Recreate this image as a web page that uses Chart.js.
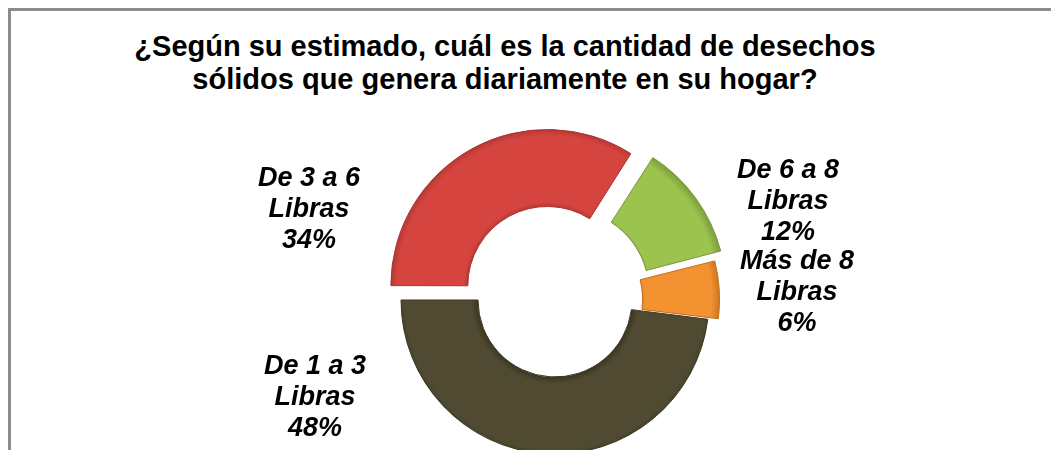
<!DOCTYPE html>
<html>
<head>
<meta charset="utf-8">
<script src="https://cdn.jsdelivr.net/npm/chart.js@4"></script>
<style>
  html, body { margin: 0; padding: 0; background: #fff; overflow: hidden; }
  #wrap { position: relative; width: 1051px; height: 450px; }
  #frame {
    position: absolute; left: 8px; top: 8px; right: 0; bottom: 0;
    border-left: 3px solid #8c8c8c; border-top: 3px solid #8c8c8c;
  }
  #title {
    position: absolute; left: 0; top: 30px; width: 1010px;
    text-align: center; font: bold 29px "Liberation Sans", Arial, sans-serif;
    line-height: 33px; color: #000;
  }
  canvas { position: absolute; left: 0; top: 0; }
</style>
</head>
<body>
<div id="wrap">
  <div id="frame"></div>
  <div id="title">¿Según su estimado, cuál es la cantidad de desechos<br>sólidos que genera diariamente en su hogar?</div>
  <canvas id="canvas" width="1051" height="450"></canvas>
</div>
<script>
const categories = ['De 1 a 3 Libras', 'De 3 a 6 Libras', 'De 6 a 8 Libras', 'Más de 8 Libras']
const percents = [48, 34, 12, 6]

const colors = ['#4f4a31', '#d5443f', '#9bc34e', '#f29231']
const edgeColors = ['#3a3622', '#a8322e', '#76983a', '#c46f1e']
// label spot (middle line) relative to the doughnut centre
const labelSpots = [[-240, 98], [-246, -90], [233, -98], [242, -7]]

function shade(context) {
  const chart = context.chart
  const area = chart.chartArea
  const i = context.dataIndex
  if (!area) return colors[i]
  const cx = (area.left + area.right) / 2
  const cy = (area.top + area.bottom) / 2
  const g = chart.ctx.createRadialGradient(cx, cy, 77, cx, cy, 160)
  g.addColorStop(0, edgeColors[i])
  g.addColorStop(0.08, colors[i])
  g.addColorStop(0.88, colors[i])
  g.addColorStop(1, edgeColors[i])
  return g
}

const labelPlugin = {
  id: 'sliceLabels',
  afterDatasetsDraw(chart) {
    const ctx = chart.ctx
    const arcs = chart.getDatasetMeta(0).data
    ctx.save()
    ctx.font = 'italic bold 27px "Liberation Sans", Arial, sans-serif'
    ctx.fillStyle = '#000'
    ctx.textAlign = 'center'
    ctx.textBaseline = 'middle'
    arcs.forEach((arc, i) => {
      const name = categories[i]
      const cut = name.lastIndexOf(' ')
      const lines = [name.slice(0, cut), name.slice(cut + 1), percents[i] + '%']
      const x = arc.x + labelSpots[i][0]
      const y = arc.y + labelSpots[i][1]
      lines.forEach((t, k) => ctx.fillText(t, x, y + (k - 1) * 31))
    })
    ctx.restore()
  }
}

const ctx = document.querySelector('#canvas').getContext('2d')

const config = {
  type: 'doughnut',
  data: {
    labels: categories,
    datasets: [{
      data: percents,
      backgroundColor: shade,
      borderColor: edgeColors,
      borderWidth: 1,
      offset: [0, 64, 60, 26],
      clip: false
    }]
  },
  options: {
    responsive: false,
    animation: false,
    rotation: 97.2,
    radius: 154,
    cutout: '50%',
    layout: { padding: { top: 150, left: 59, right: 0, bottom: 0 } },
    plugins: {
      legend: { display: false },
      tooltip: { enabled: false }
    }
  },
  plugins: [labelPlugin]
}

const myChart = new Chart(ctx, config)
</script>
</body>
</html>
